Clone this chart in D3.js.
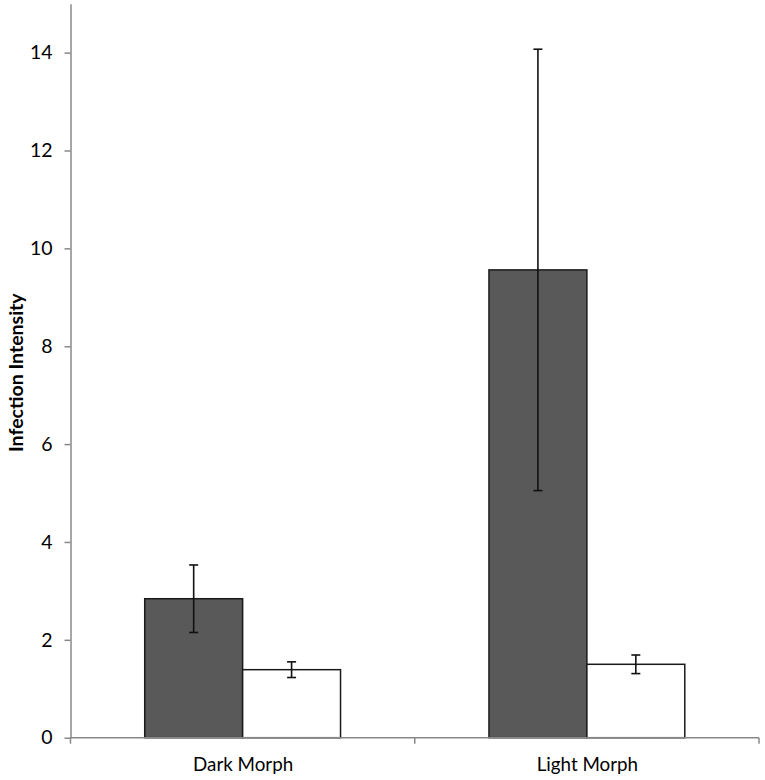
<!DOCTYPE html>
<html><head><meta charset="utf-8">
<script src="https://cdn.jsdelivr.net/npm/d3@7"></script>
<style>body{margin:0;background:#fff}svg{display:block}text{font-family:Lato,"Open Sans",sans-serif}</style>
</head><body>
<svg id="c" width="765" height="780"></svg>
<script>
const categories = ["Dark Morph", "Light Morph"];
const seriesNames = ["A", "B"];
const darkValues = [2.84, 9.56];
const darkErrors = [0.69, 4.51];
const whiteValues = [1.39, 1.50];
const whiteErrors = [0.16, 0.19];
const yTicks = [0, 2, 4, 6, 8, 10, 12, 14];

const svg = d3.select("#c");
const mLeft = 70.5, mRight = 759, mTop = 3.7, mBottom = 737.7;
const y = d3.scaleLinear().domain([0, 15]).range([mBottom, mTop]);
const x = d3.scaleBand().domain(categories).range([mLeft, mRight]).paddingInner(0).paddingOuter(0);
const inner = d3.scaleBand().domain(seriesNames).range([0, x.bandwidth()]).paddingOuter(0.758).paddingInner(0);

const data = [];
categories.forEach((c, i) => {
  data.push({c, s: "A", v: darkValues[i], e: darkErrors[i], fill: "#595959"});
  data.push({c, s: "B", v: whiteValues[i], e: whiteErrors[i], fill: "#ffffff"});
});

// bars
svg.append("g").selectAll("rect").data(data).join("rect")
  .attr("x", d => x(d.c) + inner(d.s))
  .attr("width", inner.bandwidth())
  .attr("y", d => y(d.v))
  .attr("height", d => y(0) - y(d.v))
  .attr("fill", d => d.fill)
  .attr("stroke", "#1a1a1a")
  .attr("stroke-width", 1.5);

// error bars
const eg = svg.append("g").attr("stroke", "#111").attr("stroke-width", 1.6);
data.forEach(d => {
  const cx = x(d.c) + inner(d.s) + inner.bandwidth() / 2;
  eg.append("line").attr("x1", cx).attr("x2", cx).attr("y1", y(d.v + d.e)).attr("y2", y(d.v - d.e));
  [d.v + d.e, d.v - d.e].forEach(v => {
    eg.append("line").attr("x1", cx - 4.5).attr("x2", cx + 4.5).attr("y1", y(v)).attr("y2", y(v));
  });
});

// y axis
const yAxis = d3.axisLeft(y).tickValues(yTicks).tickSizeInner(6).tickSizeOuter(0).tickPadding(12);
const ya = svg.append("g").attr("transform", `translate(${mLeft},0)`).call(yAxis);
ya.select(".domain").attr("stroke", "#888").attr("stroke-width", 1.5);
ya.selectAll(".tick line").attr("stroke", "#888").attr("stroke-width", 1.5);
ya.selectAll(".tick text").attr("font-size", 19.5).attr("fill", "#000").attr("font-family", "Lato");

// x axis
const xa = svg.append("g").attr("transform", `translate(0,${mBottom})`);
xa.append("line").attr("x1", mLeft).attr("x2", mRight).attr("stroke", "#888").attr("stroke-width", 1.5);
const bounds = [mLeft].concat(categories.map(c => x(c) + x.bandwidth()));
xa.selectAll("line.t").data(bounds).join("line").attr("class", "t")
  .attr("x1", d => d).attr("x2", d => d).attr("y1", 0).attr("y2", 6)
  .attr("stroke", "#888").attr("stroke-width", 1.5);
xa.selectAll("text").data(categories).join("text")
  .attr("x", d => x(d) + x.bandwidth() / 2 + 0.5)
  .attr("y", 33.5)
  .attr("text-anchor", "middle")
  .attr("font-size", 18.8)
  .text(d => d);

// y title
svg.append("text")
  .attr("transform", `translate(22.5,${(mTop + mBottom) / 2 + 2}) rotate(-90)`)
  .attr("text-anchor", "middle")
  .attr("font-size", 19.5)
  .attr("font-weight", "bold")
  .text("Infection Intensity");
</script>
</body></html>
